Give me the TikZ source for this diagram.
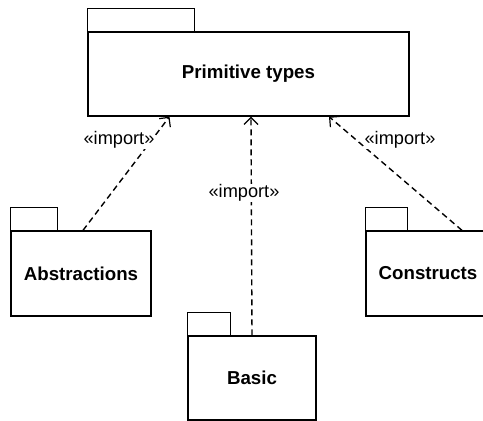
\documentclass[tikz,border=0pt]{standalone}
\usepackage{fontspec}
\setmainfont{Liberation Sans}
\usetikzlibrary{arrows.meta}

\tikzset{
  pkgbody/.style={draw, line width=1.3pt, fill=white, inner sep=0pt,
    font=\fontsize{18.7}{22}\selectfont\bfseries},
  pkgtab/.style={draw, line width=1.3pt},
  importdep/.style={draw, line width=1.4pt, dash pattern=on 6pt off 4pt,
    -{Straight Barb[length=7pt,width=14pt,line width=1.2pt]}},
  stereo/.style={fill=white, inner sep=1pt, font=\fontsize{18.2}{21}\selectfont}
}

\begin{document}
\begin{tikzpicture}[x=1pt, y=-1pt]
  \useasboundingbox (0,0) rectangle (483,421);

  % packages: body rectangle plus a tab above its upper left corner
  \node[pkgbody, minimum width=321pt, minimum height=84pt] (prim) at (248.5,74) {Primitive types};
  \draw[pkgtab] (prim.north west) rectangle ++(107,-23);

  \node[pkgbody, minimum width=140pt, minimum height=85pt] (abs) at (81,273.5) {Abstractions};
  \draw[pkgtab] (abs.north west) rectangle ++(47,-23);

  \node[pkgbody, minimum width=124pt, minimum height=85pt] (cons) at (428,273.5) {Constructs};
  \draw[pkgtab] (cons.north west) rectangle ++(42,-23);

  \node[pkgbody, minimum width=128pt, minimum height=84pt] (basic) at (252,378) {Basic};
  \draw[pkgtab] (basic.north west) rectangle ++(43,-23);

  % import dependencies
  \draw[importdep] ([xshift=2pt]abs.north) -- ([xshift=-79pt]prim.south);
  \draw[importdep] (basic.north) -- ([xshift=2.5pt]prim.south);
  \draw[importdep] ([xshift=34pt]cons.north) -- ([xshift=80.5pt]prim.south);

  % stereotype labels
  \node[stereo] (l1) at (119,140) {«import»};
  \node[stereo] (l2) at (244,193) {«import»};
  \node[stereo] (l3) at (400,140) {«import»};
\end{tikzpicture}
\end{document}
